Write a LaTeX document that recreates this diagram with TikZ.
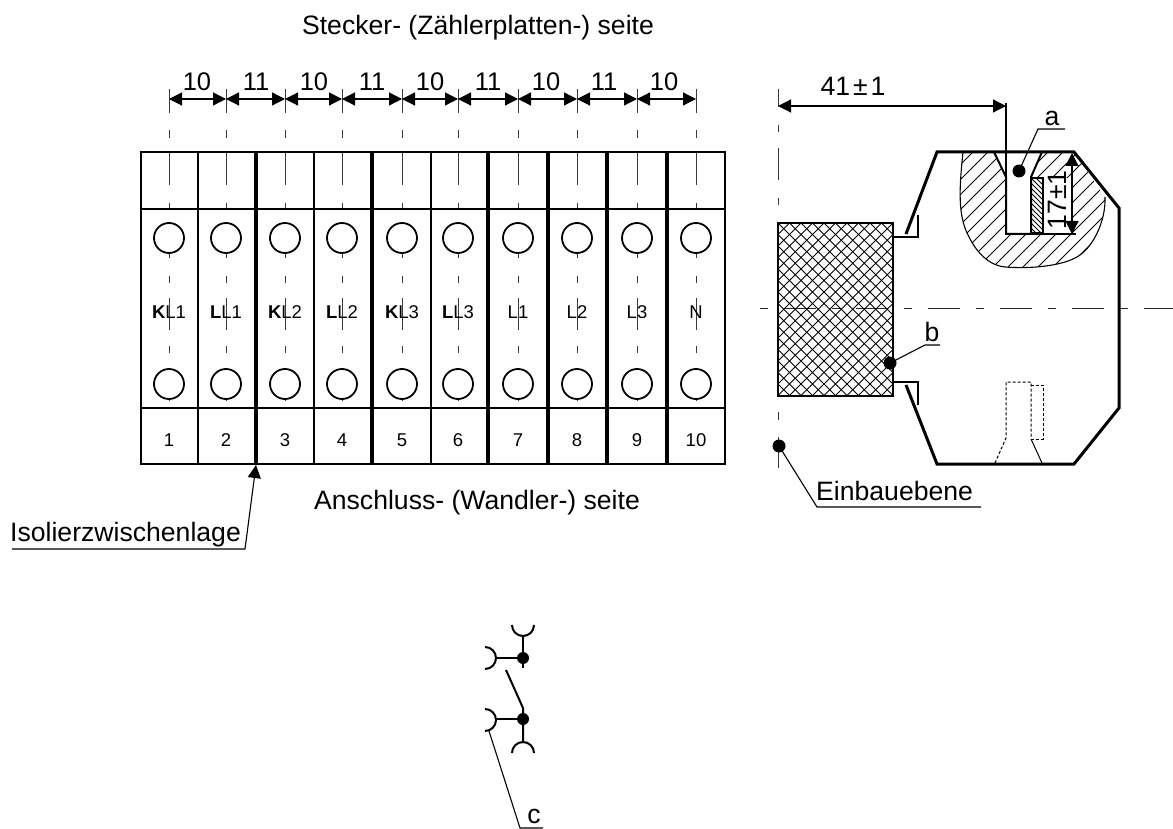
\documentclass[tikz,border=0pt]{standalone}
\usepackage{fontspec}
\setmainfont{Liberation Sans}
\usetikzlibrary{arrows.meta}
\tikzset{
  x=1pt,y=-1pt,
  thin line/.style={line width=1.1pt},
  mid line/.style={line width=1.5pt},
  box line/.style={line width=2pt},
  thick line/.style={line width=3pt},
  sep line/.style={line width=4pt},
  dim/.style={line width=1.2pt,{Triangle[length=13pt,width=13pt]}-{Triangle[length=13pt,width=13pt]}},
  lab/.style={inner sep=0pt,font=\fontsize{26.6}{26.6}\selectfont},
  numlab/.style={inner sep=0pt,font=\fontsize{25.5}{25.5}\selectfont},
  small/.style={inner sep=0pt,font=\fontsize{18.5}{18.5}\selectfont},
  hole/.style={circle,draw,fill=white,line width=1.8pt,minimum size=30pt,inner sep=0pt},
  dot/.style={circle,fill=black,minimum size=13pt,inner sep=0pt},
}
\begin{document}
\begin{tikzpicture}
\useasboundingbox (0,0) rectangle (1173,829);
\fill[white] (0,0) rectangle (1173,829);
% centre lines of the terminals
\foreach \c in {169,226,285,342,402,458,518,577,637,696}{
  \foreach \a/\b in {89/113,130/138,153/185,203/210,226/258,276/283,298/330,346/353,369/401}
    \draw[gray!45!black,line width=0.9pt] (\c,\a) -- (\c,\b);
}
% terminal block
\draw[box line] (141,152) rectangle (725,464);
\draw[box line] (141,209) -- (725,209);
\draw[box line] (141,408) -- (725,408);
\foreach \x in {198,314,431}
  \draw[box line] (\x,152) -- (\x,464);
\foreach \x in {256,372,488,548,607,667}
  \draw[sep line] (\x,152) -- (\x,464);
% holes, labels
\foreach \c/\l/\t [count=\i] in {169/K/L1,226/L/L1,285/K/L2,342/L/L2,402/K/L3,458/L/L3,518//L1,577//L2,637//L3,696//N}{
  \node[hole] (ht\i) at (\c,238) {};
  \node[hole] (hb\i) at (\c,384) {};
  \node[small] (num\i) at (\c,440) {\i};
  \node[small] (lb\i) at (\c,312) {\ifx\l\empty\else\textbf{\l}\fi\t};
}
% dimensions
\foreach \c [count=\i] in {169,226,285,342,402,458,518,577,637,696}
  \coordinate (d\i) at (\c,99);
\foreach \i/\j/\t/\m in {1/2/10/197,2/3/11/256,3/4/10/314,4/5/11/372,5/6/10/430,6/7/11/488,7/8/10/546,8/9/11/604,9/10/10/664}{
  \draw[dim] (d\i) -- (d\j);
  \node[numlab] at (\m,82) {\t};
}
% titles
\node[lab,anchor=base] (title) at (478,35) {Stecker- (Zählerplatten-) seite};
\node[lab,anchor=base] (title2) at (477,509) {Anschluss- (Wandler-) seite};
% Isolierzwischenlage
\node[lab,anchor=base west] (iso) at (10,541) {Isolierzwischenlage};
\coordinate (iso1) at (12,549);
\coordinate (iso2) at (245,549);
\coordinate (isot) at (256,465);
\draw[thin line,-{Triangle[length=13pt,width=13pt]}] (iso1) -- (iso2) -- (isot);
% side view: centre lines
\draw[line width=0.8pt,gray!30!black,dash pattern=on 8pt off 16pt on 32pt off 16pt] (760,308) -- (1173,308);
\foreach \a/\b in {89/107,125/132,148/180,198/205,412/420,437/468}
  \draw[gray!45!black,line width=0.9pt] (778,\a) -- (778,\b);
% cross hatched block
\begin{scope}
  \clip (778,223) rectangle (893,396);
  \foreach \k in {-16,...,40}{
    \draw[line width=1pt] (778+\k*11.5,223) -- ++(173,173);
    \draw[line width=1pt] (778+\k*11.5,223) -- ++(-173,173);
  }
\end{scope}
\draw[box line] (778,223) rectangle (893,396);
% tabs
\draw[box line] (893,237) -- (918,237) -- (918,215);
\draw[box line] (893,382) -- (918,382) -- (918,405);
% hatched region
\begin{scope}
  \clip (963,152) .. controls (959,190) and (958,215) .. (968,235) .. controls (978,256) and (992,266) .. (1005,267) .. controls (1030,269) and (1060,266) .. (1075,258) .. controls (1092,250) and (1106,222) .. (1105,197) -- (1074,152) -- cycle;
  \foreach \k in {-10,...,30}
    \draw[line width=1pt] (830+\k*15,280) -- ++(130,-130);
\end{scope}
\draw[line width=1.1pt] (963,152) .. controls (959,190) and (958,215) .. (968,235) .. controls (978,256) and (992,266) .. (1005,267) .. controls (1030,269) and (1060,266) .. (1075,258) .. controls (1092,250) and (1106,222) .. (1105,197);
% slot
\fill[white] (994,152) -- (1006,177) -- (1006,234) -- (1031,234) -- (1031,177) -- (1042,152) -- cycle;
\fill[white] (1031,178) rectangle (1071,233);
\begin{scope}
  \clip (1031,178) rectangle (1043,233);
  \foreach \k in {-12,...,6}
    \draw[line width=0.9pt] (1031+\k*5,178) -- ++(60,60);
\end{scope}
\draw[mid line] (1031,178) rectangle (1043,233);
\draw[box line] (994,152) -- (1006,177) -- (1006,234) -- (1043,234);
\draw[box line] (1042,152) -- (1031,177) -- (1031,234);
% body outline
\draw[thick line,line join=miter] (906,234) -- (937,152) -- (1074,152) -- (1119,208) -- (1119,408) -- (1074,464) -- (937,464) -- (906,385);
% dashed hidden slot
\draw[line width=1pt,dash pattern=on 3pt off 2pt] (995,463) -- (1006,438) -- (1006,382) -- (1031,382) -- (1031,438);
\draw[line width=1pt,dash pattern=on 3pt off 2pt] (1031,385) -- (1043,385) -- (1043,439) -- (1031,439);
\draw[line width=1pt] (1031,439) -- (1042,463);
% 41 +- 1
\coordinate (ref) at (778,106);
\coordinate (refb) at (1006,106);
\draw[dim] (ref) -- (refb);
\draw[thin line] (1006,103) -- (1006,177);
\node[lab,anchor=base] (dimA) at (853,96) {41\kern3pt±\kern3pt1};
% 17 +- 1
\coordinate (ta) at (1072,153);
\coordinate (tb) at (1072,234);
\draw[dim] (ta) -- (tb);
\draw[thin line] (1043,234) -- (1076,234);
\node[lab,rotate=90] (dimB) at (1057,200) {17±1};
% callouts
\node[dot] (da) at (1019,171) {};
\draw[thin line] (da.center) -- (1038,129) -- (1065,129);
\node[lab] (la) at (1052,118) {a};
\node[dot] (db) at (890,363) {};
\draw[thin line] (db.center) -- (925,345) -- (940,345);
\node[lab] (lb) at (932,332) {b};
\node[dot] (de) at (779,446) {};
\draw[thin line] (de.center) -- (817,507) -- (981,507);
\node[lab,anchor=base west] (le) at (816,500) {Einbauebene};
% switch symbol
\node[dot,minimum size=12pt] (s1) at (523,658) {};
\node[dot,minimum size=12pt] (s2) at (523,719) {};
\draw[box line] (512,625) arc[start angle=180,end angle=0,radius=11];
\draw[box line] (523,636) -- (523,668);
\draw[box line] (485,647) arc[start angle=-90,end angle=90,radius=11];
\draw[box line] (496,658) -- (s1.center);
\draw[box line] (506,670) -- (523,708) -- (523,743);
\draw[box line] (496,719) -- (s2.center);
\draw[box line] (485,709) arc[start angle=-90,end angle=90,radius=11];
\draw[box line] (512,753) arc[start angle=180,end angle=360,radius=11];
\draw[thin line] (489,731) -- (520,828) -- (543,828);
\node[lab] (lc) at (534,816) {c};
\end{tikzpicture}
\end{document}
